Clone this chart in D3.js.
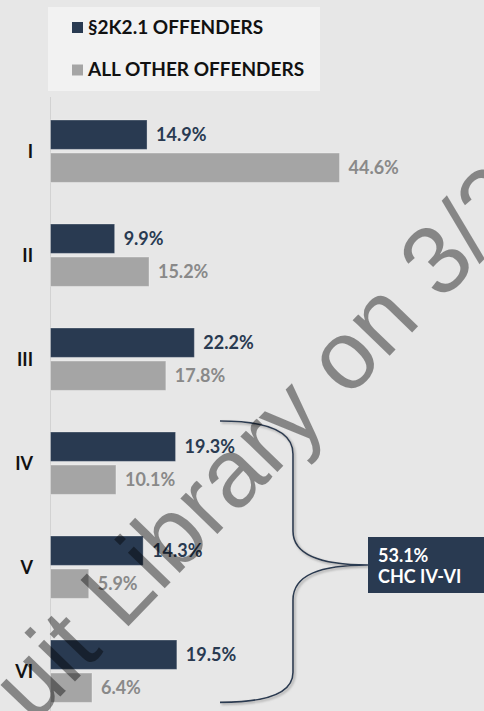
<!DOCTYPE html>
<html>
<head>
<meta charset="utf-8">
<script src="https://cdn.jsdelivr.net/npm/d3@7"></script>
<style>
    body { margin: 0; background: #e7e7e7; }
    svg { display: block; font-family: Lato, "Open Sans", sans-serif; }
</style>
</head>
<body>
<div id="chart"></div>
<script>
// Criminal history categories and the share of offenders in each
const categories = ["I", "II", "III", "IV", "V", "VI"];
const seriesNames = ["§2K2.1 OFFENDERS", "ALL OTHER OFFENDERS"];
const offenders2k21 = [14.9, 9.9, 22.2, 19.3, 14.3, 19.5];
const otherOffenders = [44.6, 15.2, 17.8, 10.1, 5.9, 6.4];
const bracketCats = ["IV", "V", "VI"];
const watermark = "uit Library on 3/2";

const colors = ["#293a51", "#a5a5a5"];
const labelColors = ["#293a51", "#898989"];

const width = 484, height = 711;

const svg = d3.select("#chart")
    .append("svg")
    .attr("width", width)
    .attr("height", height);

svg.append("rect")
    .attr("width", width)
    .attr("height", height)
    .attr("fill", "#e7e7e7");

// drop shadow for the bracket
svg.append("defs")
    .append("filter")
    .attr("id", "shadow")
    .append("feDropShadow")
    .attr("dx", 1.5)
    .attr("dy", 1.5)
    .attr("stdDeviation", 1)
    .attr("flood-color", "#9a9a9a");

let x = d3.scaleLinear()
    .domain([0, 50])
    .range([50.5, 374.5]);

let y = d3.scaleBand()
    .domain(categories)
    .range([99.2, 723.2])
    .paddingInner(0.4)
    .paddingOuter(0.2);

let ySeries = d3.scaleBand()
    .domain([0, 1])
    .range([0, y.bandwidth()])
    .paddingInner(0.11);

// legend
let legend = svg.append("g");

legend.append("rect")
    .attr("x", 48)
    .attr("y", 7)
    .attr("width", 272)
    .attr("height", 84)
    .attr("fill", "#f2f2f2");

seriesNames.forEach(function(name, i) {
    legend.append("rect")
        .attr("x", 72)
        .attr("y", 22 + i * 42.5)
        .attr("width", 11)
        .attr("height", 11)
        .attr("fill", colors[i]);

    legend.append("text")
        .attr("x", 88)
        .attr("y", 34 + i * 42)
        .attr("font-size", "19px")
        .attr("font-weight", "bold")
        .attr("fill", "#111")
        .text(name);
});

// vertical axis line
svg.append("line")
    .attr("x1", x(0))
    .attr("x2", x(0))
    .attr("y1", 97)
    .attr("y2", height)
    .attr("stroke", "#d2d2d2");

// one group per category
let rows = categories.map(function(c, i) {
    return {cat: c, values: [offenders2k21[i], otherOffenders[i]]};
});

let groups = svg.selectAll(".cat")
    .data(rows)
    .enter()
    .append("g")
    .attr("class", "cat")
    .attr("transform", d => `translate(0,${y(d.cat)})`);

groups.append("text")
    .attr("x", 33)
    .attr("y", y.bandwidth() / 2)
    .attr("dy", "0.35em")
    .attr("text-anchor", "end")
    .attr("font-size", "18px")
    .attr("font-weight", "bold")
    .attr("fill", "#111")
    .text(d => d.cat);

groups.selectAll("rect")
    .data(d => d.values)
    .enter()
    .append("rect")
    .attr("x", x(0))
    .attr("y", (d, i) => ySeries(i))
    .attr("width", d => x(d) - x(0))
    .attr("height", ySeries.bandwidth())
    .attr("fill", (d, i) => colors[i])
    .attr("stroke", "rgba(255,255,255,0.3)");

groups.selectAll(".val")
    .data(d => d.values)
    .enter()
    .append("text")
    .attr("class", "val")
    .attr("x", d => x(d) + 9)
    .attr("y", (d, i) => ySeries(i) + ySeries.bandwidth() / 2)
    .attr("dy", "0.35em")
    .attr("font-size", "18px")
    .attr("font-weight", "bold")
    .attr("fill", (d, i) => labelColors[i])
    .text(d => d3.format(".1f")(d) + "%");

// curly bracket over categories IV-VI
let bTop = y(bracketCats[0]) - 11;
let bBottom = y(bracketCats[bracketCats.length - 1]) + y.bandwidth();
let mid = 565;
let bx0 = 220, bx1 = 293, bx2 = 368;

let bracket = d3.path();
bracket.moveTo(bx0, bTop);
bracket.bezierCurveTo(bx0 + 45, bTop, bx1, bTop + 10, bx1, bTop + 33);
bracket.lineTo(bx1, mid - 34);
bracket.bezierCurveTo(bx1, mid - 10, bx1 + 27, mid, bx2, mid);
bracket.bezierCurveTo(bx1 + 27, mid, bx1, mid + 10, bx1, mid + 35);
bracket.lineTo(bx1, bBottom - 30);
bracket.bezierCurveTo(bx1, bBottom - 9, bx0 + 45, bBottom, bx0, bBottom);

svg.append("path")
    .attr("d", bracket.toString())
    .attr("fill", "none")
    .attr("stroke", "#293a51")
    .attr("stroke-width", 1.6)
    .attr("filter", "url(#shadow)");

let total = d3.sum(bracketCats, c => offenders2k21[categories.indexOf(c)]);

svg.append("rect")
    .attr("x", bx2)
    .attr("y", mid - 28)
    .attr("width", width - bx2)
    .attr("height", 56)
    .attr("fill", "#293a51");

svg.append("text")
    .attr("x", bx2 + 10)
    .attr("y", mid - 3)
    .attr("font-size", "18px")
    .attr("font-weight", "bold")
    .attr("fill", "#fff")
    .text(d3.format(".1f")(total) + "%");

svg.append("text")
    .attr("x", bx2 + 10)
    .attr("y", mid + 18)
    .attr("font-size", "18px")
    .attr("font-weight", "bold")
    .attr("fill", "#fff")
    .text("CHC " + bracketCats[0] + "-" + bracketCats[bracketCats.length - 1]);

// library watermark across the page
svg.append("text")
    .attr("transform", "translate(33,725) rotate(-46)")
    .attr("font-family", "Liberation Sans, Arial, sans-serif")
    .attr("font-size", "97px")
    .attr("fill", "#000")
    .attr("fill-opacity", 0.42)
    .text(watermark);
</script>
</body>
</html>
